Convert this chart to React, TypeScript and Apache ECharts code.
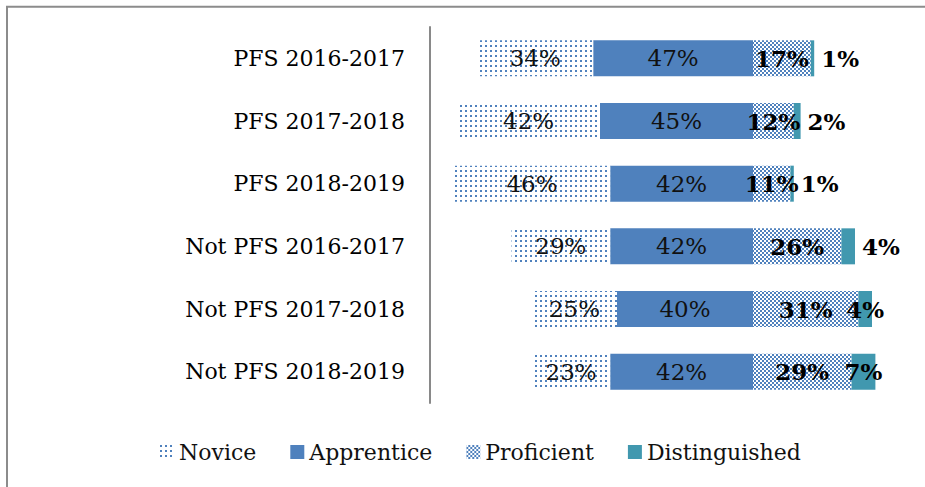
import React, { useEffect, useRef } from "react";
import * as echarts from "echarts";

const categories = [
  "PFS 2016-2017",
  "PFS 2017-2018",
  "PFS 2018-2019",
  "Not PFS 2016-2017",
  "Not PFS 2017-2018",
  "Not PFS 2018-2019",
];
const novice = [34, 42, 46, 29, 25, 23];
const apprentice = [47, 45, 42, 42, 40, 42];
const proficient = [17, 12, 11, 26, 31, 29];
const distinguished = [1, 2, 1, 4, 4, 7];
const legendNames = ["Novice", "Apprentice", "Proficient", "Distinguished"];

const FONT = "DejaVu Serif";
const BLUE = "#4F81BD";
const TEAL = "#4198AF";

export default function App() {
  const ref = useRef<HTMLDivElement>(null);
  useEffect(() => {
    if (!ref.current) return;
    const chart = echarts.init(ref.current, null, { renderer: "svg" });
    const fmt = (p: any) => Math.abs(p.value) + "%";
    const labelBase = {
      show: true,
      fontFamily: FONT,
      fontSize: 23,
      color: "#111",
      formatter: fmt,
    };
    const distInside = [false, false, false, false, true, true];
    chart.setOption({
      animation: false,
      backgroundColor: "#fff",
      graphic: [
        {
          type: "rect",
          shape: { x: 7, y: 6.75, width: 960, height: 520 },
          style: { fill: "none", stroke: "#8c8c8c", lineWidth: 2 },
          silent: true,
        },
      ],
      legend: {
        data: legendNames,
        left: 155,
        top: 436,
        icon: "rect",
        itemWidth: 14,
        itemHeight: 14,
        itemGap: 34,
        textStyle: { fontFamily: FONT, fontSize: 22, color: "#111" },
      },
      grid: { left: 430, top: 27, width: 476, height: 376 },
      xAxis: {
        type: "value",
        min: -95,
        max: 45,
        show: false,
        splitLine: { show: false },
      },
      yAxis: {
        type: "category",
        data: categories,
        inverse: true,
        axisLine: { show: true, onZero: false, lineStyle: { color: "#898989", width: 2 } },
        axisTick: { show: false },
        axisLabel: { fontFamily: FONT, fontSize: 22, color: "#000", margin: 25 },
      },
      series: [
        {
          name: "Apprentice",
          type: "bar",
          stack: "total",
          barWidth: 36,
          data: apprentice.map((v) => -v),
          itemStyle: { color: BLUE },
          label: { ...labelBase, position: "inside" },
        },
        {
          name: "Novice",
          type: "bar",
          stack: "total",
          barWidth: 36,
          data: novice.map((v) => -v),
          itemStyle: {
            color: "#fff",
            decal: {
              symbol: "rect",
              symbolSize: 1,
              color: BLUE,
              backgroundColor: "#fff",
              dashArrayX: [2, 2.6],
              dashArrayY: [2, 2.6],
            },
          },
          label: { ...labelBase, position: "inside" },
        },
        {
          name: "Proficient",
          type: "bar",
          stack: "total",
          barWidth: 36,
          data: proficient,
          itemStyle: {
            color: "#fff",
            decal: {
              symbol: "rect",
              symbolSize: 1,
              color: BLUE,
              backgroundColor: "#fff",
              dashArrayX: [
                [2, 2],
                [0, 2, 2, 0],
              ],
              dashArrayY: [2, 0],
            },
          },
          label: { ...labelBase, position: "inside", fontWeight: "bold", color: "#000" },
        },
        {
          name: "Distinguished",
          type: "bar",
          stack: "total",
          barWidth: 36,
          data: distinguished.map((v, i) => ({
            value: v,
            label: distInside[i]
              ? { position: "inside" }
              : { position: "right", distance: 7 },
          })),
          itemStyle: { color: TEAL },
          label: { ...labelBase, fontWeight: "bold", color: "#000" },
        },
      ],
    });
    return () => chart.dispose();
  }, []);
  return (
    <div
      ref={ref}
      style={{ position: "absolute", left: 0, top: 0, width: 925, height: 487 }}
    />
  );
}
